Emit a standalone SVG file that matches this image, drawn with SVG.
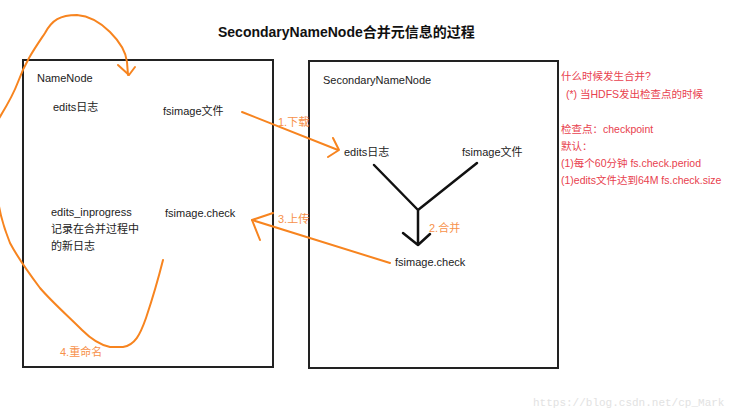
<svg xmlns="http://www.w3.org/2000/svg" width="750" height="415" viewBox="0 0 750 415">
<style>
.t{font-family:"Liberation Sans","Noto Sans CJK SC",sans-serif;font-size:11px;fill:#222}
.title{font-family:"Liberation Sans","Noto Sans CJK SC",sans-serif;font-size:14px;font-weight:bold;fill:#111}
.r{font-family:"Liberation Sans","Noto Sans CJK SC",sans-serif;font-size:10.5px;fill:#e8414e}
.o{font-family:"Liberation Sans","Noto Sans CJK SC",sans-serif;font-size:11px;fill:#f7914a}
.box{fill:none;stroke:#222;stroke-width:2}
.ol{fill:none;stroke:#f7841f;stroke-width:2;stroke-linecap:round;stroke-linejoin:round}
.bl{fill:none;stroke:#111;stroke-width:2.5;stroke-linecap:round;stroke-linejoin:round}
.wm{font-family:"Liberation Mono","DejaVu Sans Mono",monospace;font-size:11px;fill:#e2e2e2}
</style>
<rect width="750" height="415" fill="#fff"/>
<text class="title" x="218" y="37">SecondaryNameNode合并元信息的过程</text>
<g id="namenode">
<rect class="box" x="23" y="60" width="250" height="307"/>
<text class="t" x="37" y="82">NameNode</text>
<text class="t" x="53" y="111">edits日志</text>
<text class="t" x="163" y="115">fsimage文件</text>
<text class="t" x="51" y="216">edits_inprogress</text>
<text class="t" x="51" y="233">记录在合并过程中</text>
<text class="t" x="51" y="250">的新日志</text>
<text class="t" x="165" y="217">fsimage.check</text>
</g>
<g id="secondarynamenode">
<rect class="box" x="309" y="61" width="249" height="307"/>
<text class="t" x="323" y="84">SecondaryNameNode</text>
<text class="t" x="344" y="156">edits日志</text>
<text class="t" x="462" y="156">fsimage文件</text>
<text class="t" x="395" y="266">fsimage.check</text>
</g>
<g id="notes">
<text class="r" x="561" y="80">什么时候发生合并?</text>
<text class="r" x="566" y="98">(*)  当HDFS发出检查点的时候</text>
<text class="r" x="561" y="133">检查点：checkpoint</text>
<text class="r" x="561" y="150">默认：</text>
<text class="r" x="561" y="167">(1)每个60分钟 fs.check.period</text>
<text class="r" x="561" y="184">(1)edits文件达到64M fs.check.size</text>
</g>
<g id="connectors">
<path class="ol" d="M242,112 L338,150"/>
<path class="ol" d="M333,138 L339,150 L328,157"/>
<text class="o" x="278" y="126">1.下载</text>
<path class="bl" d="M374,165 L418,210 L477,163 M418,210 L418,245 M403,233 L418,245 L430,234"/>
<text class="o" x="429" y="232">2.合并</text>
<path class="ol" d="M390,263 L252,220"/>
<path class="ol" d="M273,213 L252,220 L260,240"/>
<text class="o" x="278" y="223">3.上传</text>
<path class="ol" d="M163,260 C158,280 152,300 146,318 C140,335 135,345 123,347 L110,347 C100,345 92,340 82,330 C68,316 52,302 40,288 C28,272 18,258 10,243 C4,228 0,215 -2,200 M-2,120 C4,110 12,98 18,82 C25,62 35,48 45,33 C52,20 60,15 77,15 C90,16 100,22 110,32 C120,42 126,52 127,62 L128,75"/>
<path class="ol" d="M118,65 L129,75 L135,67"/>
<text class="o" x="60" y="356">4.重命名</text>
</g>
<text class="wm" x="533" y="406">https://blog.csdn.net/cp_Mark</text>
</svg>
